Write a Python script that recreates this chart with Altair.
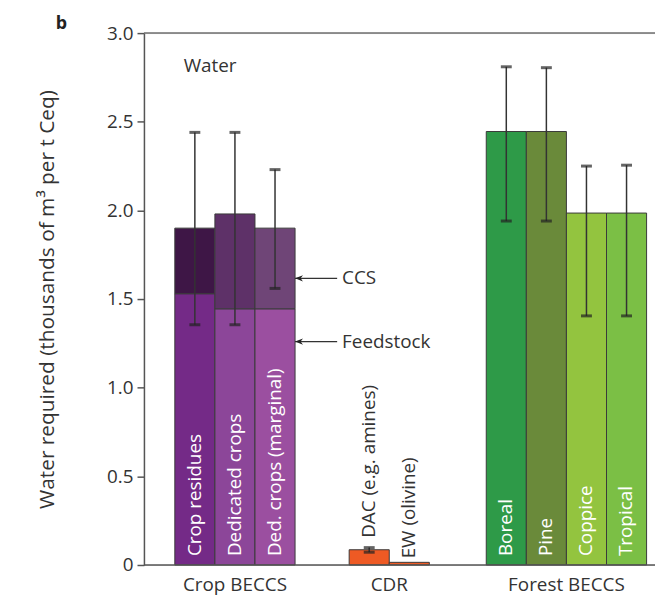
import altair as alt
import pandas as pd

# ---------------- data ----------------
crop_names = ["Crop residues", "Dedicated crops", "Ded. crops (marginal)"]
crop_feedstock = [1.53, 1.445, 1.445]
crop_total = [1.90, 1.98, 1.90]
crop_err_lo = [1.355, 1.355, 1.56]
crop_err_hi = [2.44, 2.44, 2.23]
crop_feed_colors = ["#742a87", "#8c4699", "#9b4fa0"]
crop_ccs_colors = ["#3e1646", "#5e3168", "#6f4577"]

cdr_names = ["DAC (e.g. amines)", "EW (olivine)"]
cdr_values = [0.086, 0.015]
cdr_err_lo = [0.072, None]
cdr_err_hi = [0.098, None]
cdr_colors = ["#ee5a24", "#ee5a24"]

forest_names = ["Boreal", "Pine", "Coppice", "Tropical"]
forest_values = [2.445, 2.445, 1.985, 1.985]
forest_err_lo = [1.94, 1.94, 1.405, 1.405]
forest_err_hi = [2.81, 2.805, 2.25, 2.255]
forest_colors = ["#2e9a48", "#6a8a3a", "#93c43f", "#7bbf45"]

group_names = ["Crop BECCS", "CDR", "Forest BECCS"]
y_ticks = [0, 0.5, 1.0, 1.5, 2.0, 2.5, 3.0]

# ---------------- layout (x in bar-width units) ----------------
group_start = [0.77, 5.12, 8.54]
x_max = 12.75

rects, errs, inlabels, cdrlabels, groups = [], [], [], [], []

s = group_start[0]
for i, n in enumerate(crop_names):
    l = s + i
    rects.append(dict(x0=l, x1=l + 1, y0=0, y1=crop_feedstock[i], c=crop_feed_colors[i]))
    rects.append(dict(x0=l, x1=l + 1, y0=crop_feedstock[i], y1=crop_total[i], c=crop_ccs_colors[i]))
    errs.append(dict(xc=l + 0.5, lo=crop_err_lo[i], hi=crop_err_hi[i]))
    inlabels.append(dict(xc=l + 0.5, name=n))
groups.append(dict(xc=s + len(crop_names) / 2, name=group_names[0]))

s = group_start[1]
for i, n in enumerate(cdr_names):
    l = s + i
    rects.append(dict(x0=l, x1=l + 1, y0=0, y1=cdr_values[i], c=cdr_colors[i]))
    if cdr_err_lo[i] is not None:
        errs.append(dict(xc=l + 0.5, lo=cdr_err_lo[i], hi=cdr_err_hi[i]))
    cdrlabels.append(dict(xc=l + 0.5, name=n, v=cdr_values[i]))
groups.append(dict(xc=s + len(cdr_names) / 2, name=group_names[1]))

s = group_start[2]
for i, n in enumerate(forest_names):
    l = s + i
    rects.append(dict(x0=l, x1=l + 1, y0=0, y1=forest_values[i], c=forest_colors[i]))
    errs.append(dict(xc=l + 0.5, lo=forest_err_lo[i], hi=forest_err_hi[i]))
    inlabels.append(dict(xc=l + 0.5, name=n))
groups.append(dict(xc=s + len(forest_names) / 2, name=group_names[2]))

rect_df = pd.DataFrame(rects)
err_df = pd.DataFrame(errs)
in_df = pd.DataFrame(inlabels)
cdr_df = pd.DataFrame(cdrlabels)
grp_df = pd.DataFrame(groups)

edge = group_start[0] + len(crop_names)
ann_df = pd.DataFrame([
    dict(x0=edge, x1=edge + 1.05, y=1.617, t="CCS"),
    dict(x0=edge, x1=edge + 1.05, y=1.26, t="Feedstock"),
])

FONT = "Open Sans"
TXT = "#333333"
FS = 19

xs = alt.Scale(domain=[0, x_max], nice=False, zero=False)
ys = alt.Scale(domain=[0, 3.0], nice=False)

base = alt.Chart(rect_df)

bars = base.mark_bar(stroke="#3a3a3a", strokeWidth=1).encode(
    x=alt.X("x0:Q", scale=xs, axis=None),
    x2="x1:Q",
    y=alt.Y("y0:Q", scale=ys, axis=alt.Axis(
        values=y_ticks,
        labelExpr="datum.value == 0 ? '0' : format(datum.value, '.1f')",
        title="Water required (thousands of m³ per t Ceq)",
        titleFont=FONT, titleFontSize=21, titleFontWeight="normal", titleColor=TXT,
        titleX=-97, titleY=268, titleAngle=270, titleAlign="center", titleBaseline="middle",
        labelFont=FONT, labelFontSize=19, labelColor=TXT, labelPadding=4,
        tickSize=7, tickColor="#555555", tickWidth=1.5,
        domainColor="#555555", domainWidth=1.5, grid=False,
    )),
    y2="y1:Q",
    color=alt.Color("c:N", scale=None),
)

top_rule = alt.Chart(pd.DataFrame({"v": [3.0]})).mark_rule(color="#6e6e6e", strokeWidth=1.5).encode(
    y=alt.Y("v:Q", scale=ys))
bottom_rule = alt.Chart(pd.DataFrame({"v": [0.0]})).mark_rule(color="#555555", strokeWidth=1.5).encode(
    y=alt.Y("v:Q", scale=ys))

err_rule = alt.Chart(err_df).mark_rule(color="#333333", strokeWidth=1.5).encode(
    x=alt.X("xc:Q", scale=xs), y=alt.Y("lo:Q", scale=ys), y2="hi:Q")
cap_lo = alt.Chart(err_df).mark_tick(orient="horizontal", size=11, thickness=3, color="#222222").encode(
    x=alt.X("xc:Q", scale=xs), y=alt.Y("lo:Q", scale=ys))
cap_hi = alt.Chart(err_df).mark_tick(orient="horizontal", size=11, thickness=3, color="#222222").encode(
    x=alt.X("xc:Q", scale=xs), y=alt.Y("hi:Q", scale=ys))

in_text = alt.Chart(in_df).mark_text(
    angle=270, align="left", baseline="middle", dx=9, color="white", font=FONT, fontSize=FS
).encode(x=alt.X("xc:Q", scale=xs), y=alt.datum(0), text="name:N")

dac_text = alt.Chart(cdr_df.iloc[[0]]).mark_text(
    angle=270, align="left", baseline="middle", dx=12, color=TXT, font=FONT, fontSize=FS
).encode(x=alt.X("xc:Q", scale=xs), y=alt.Y("v:Q", scale=ys), text="name:N")
ew_text = alt.Chart(cdr_df.iloc[[1]]).mark_text(
    angle=270, align="left", baseline="middle", dx=4, color=TXT, font=FONT, fontSize=FS
).encode(x=alt.X("xc:Q", scale=xs), y=alt.Y("v:Q", scale=ys), text="name:N")

grp_text = alt.Chart(grp_df).mark_text(
    baseline="middle", color=TXT, font=FONT, fontSize=FS
).encode(x=alt.X("xc:Q", scale=xs), y=alt.value(556), text="name:N")

ann_line = alt.Chart(ann_df).mark_rule(color="#333333", strokeWidth=1.2).encode(
    x=alt.X("x0:Q", scale=xs), x2="x1:Q", y=alt.Y("y:Q", scale=ys))
ann_head = alt.Chart(ann_df).mark_point(
    shape="M0,0L2,-0.8L1.4,0L2,0.8Z", size=64, filled=True, color="#222222", opacity=1
).encode(x=alt.X("x0:Q", scale=xs), y=alt.Y("y:Q", scale=ys))
ann_text = alt.Chart(ann_df).mark_text(
    align="left", baseline="middle", dx=5, color=TXT, font=FONT, fontSize=FS
).encode(x=alt.X("x1:Q", scale=xs), y=alt.Y("y:Q", scale=ys), text="t:N")

water = alt.Chart(pd.DataFrame({"t": ["Water"]})).mark_text(
    align="left", baseline="middle", color=TXT, font=FONT, fontSize=FS
).encode(x=alt.value(40), y=alt.value(33), text="t:N")
panel = alt.Chart(pd.DataFrame({"t": ["b"]})).mark_text(
    align="left", baseline="alphabetic", color="#222222", font=FONT, fontSize=18, fontWeight="bold"
).encode(x=alt.value(-89), y=alt.value(-4), text="t:N")

chart = alt.layer(
    bars, top_rule, bottom_rule, err_rule, cap_lo, cap_hi, in_text, dac_text, ew_text,
    grp_text, ann_line, ann_head, ann_text, water, panel
).properties(
    width=515, height=536,
    autosize=alt.AutoSizeParams(type="none"),
    padding={"left": 137, "top": 23, "right": 0, "bottom": 35},
).configure_view(stroke=None).configure(background="white")

chart.save("out.html", embed_options={"renderer": "svg", "actions": False})
